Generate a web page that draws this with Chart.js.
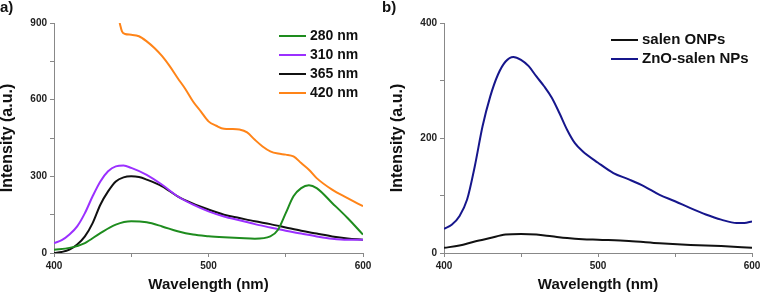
<!DOCTYPE html>
<html>
<head>
<meta charset="utf-8">
<script src="https://cdn.jsdelivr.net/npm/chart.js@4/dist/chart.umd.min.js"></script>
<style>
  body { margin: 0; background: #fff; font-family: "Liberation Sans", Arial, sans-serif; }
  #wrap { position: relative; width: 761px; height: 295px; }
  .panel { position: absolute; top: 0; height: 295px; }
  .tag { position: absolute; top: -2px; font-weight: bold; font-size: 15px; color: #111; }
  .leg { position: absolute; font-weight: bold; color: #111; }
  .leg div { position: relative; height: 19px; line-height: 19px; white-space: nowrap; }
  .leg span.sw { display: inline-block; width: 27px; height: 2px; vertical-align: middle; margin-right: 4px; }
</style>
</head>
<body>
<div id="wrap">
  <div class="panel" style="left:0;width:380px"><canvas id="chartA"></canvas></div>
  <div class="panel" style="left:380px;width:381px"><canvas id="chartB"></canvas></div>
  <div class="tag" style="left:0">a)</div>
  <div class="tag" style="left:382px">b)</div>
  <div class="leg" id="legA" style="left:279px;top:26px;font-size:14px"></div>
  <div class="leg" id="legB" style="left:611px;top:29px;font-size:15px"></div>
</div>
<script>
// panel a) excitation series
const labelsA = ['280 nm', '310 nm', '365 nm', '420 nm'];
const colorsA = ['#1e8c1e', '#9b30ff', '#111111', '#ff8418'];

const wl280 = [400, 410, 420, 430, 440, 450, 460, 470, 480, 490, 500, 510, 520, 530, 540, 545, 550, 555, 560, 565, 570, 580, 590, 600];
const em280 = [13, 20, 39, 78, 111, 124, 120, 104, 85, 72, 66, 62, 59, 56, 65, 91, 156, 222, 254, 265, 254, 196, 137, 72];

const wl310 = [400, 405, 410, 415, 420, 425, 430, 435, 440, 445, 450, 460, 470, 480, 490, 500, 510, 520, 530, 540, 550, 560, 570, 580, 590, 600];
const em310 = [39, 50, 72, 104, 156, 222, 280, 320, 339, 342, 333, 306, 267, 222, 189, 163, 143, 128, 113, 100, 87, 76, 65, 56, 52, 52];

const wl365 = [400, 405, 410, 415, 420, 425, 430, 435, 440, 445, 450, 455, 460, 470, 480, 490, 500, 510, 520, 530, 540, 550, 560, 570, 580, 590, 600];
const em365 = [0, 4, 13, 33, 65, 117, 189, 241, 280, 296, 300, 297, 287, 261, 222, 193, 170, 150, 137, 124, 113, 100, 87, 76, 65, 57, 52];

const wl420 = [442.5, 444, 446, 450, 455, 460, 465, 470, 475, 480, 485, 490, 495, 500, 505, 510, 515, 520, 525, 530, 535, 540, 545, 550, 555, 560, 565, 570, 580, 590, 600];
const em420 = [900, 867, 857, 854, 848, 828, 802, 770, 730, 685, 642, 593, 554, 515, 498, 486, 485, 483, 472, 443, 417, 398, 389, 385, 378, 352, 326, 293, 248, 215, 183];

// panel b)
const labelsB = ['salen ONPs', 'ZnO-salen NPs'];
const colorsB = ['#111111', '#16168c'];

const wlSalen = [400, 410, 420, 430, 440, 450, 460, 470, 480, 490, 500, 520, 540, 560, 580, 600];
const emSalen = [9, 13, 20, 26, 32, 33, 32, 29, 26, 24, 23, 21, 17, 14, 12, 9];

const wlZnO = [400, 405, 410, 415, 420, 425, 430, 435, 440, 445, 450, 455, 460, 465, 470, 475, 480, 485, 490, 500, 510, 520, 530, 540, 550, 560, 570, 580, 590, 595, 600];
const emZnO = [42, 49, 64, 93, 151, 220, 272, 310, 333, 341, 336, 325, 307, 290, 270, 243, 214, 191, 177, 157, 139, 128, 116, 101, 90, 78, 67, 58, 52, 52, 55];

const ticksA = [0, 300, 600, 900];
const ticksB = [0, 200, 400];
const ticksX = [400, 500, 600];

function pts(xs, ys) { return xs.map((x, i) => ({ x: x, y: ys[i] })); }

function makeChart(id, sets, labels, colors, yMax, yStep, yTicks, yAxisW, padRight, yTitlePad) {
  new Chart(document.getElementById(id), {
    type: 'line',
    data: {
      datasets: sets.map((d, i) => ({
        label: labels[i],
        data: pts(d[0], d[1]),
        borderColor: colors[i],
        borderWidth: 2,
        pointRadius: 0,
        cubicInterpolationMode: 'monotone',
        fill: false
      }))
    },
    options: {
      responsive: true,
      maintainAspectRatio: false,
      animation: false,
      layout: { padding: { top: 23, right: padRight, left: 0, bottom: 0 } },
      plugins: { legend: { display: false }, tooltip: { enabled: false } },
      scales: {
        x: {
          type: 'linear', min: 400, max: 600,
          grid: { drawOnChartArea: false, tickLength: 4, color: '#888' },
          border: { color: '#888', width: 1 },
          ticks: {
            stepSize: 50, autoSkip: false, maxRotation: 0, padding: 3,
            color: '#222', font: { size: 10, weight: 'bold' },
            callback: v => ticksX.includes(v) ? String(v) : ''
          },
          title: {
            display: true, text: 'Wavelength (nm)', color: '#111',
            font: { size: 15, weight: 'bold', lineHeight: 1 },
            padding: { top: 0, bottom: 2.5 }
          },
          afterFit: s => { s.height = 42; s.paddingLeft = 0; s.paddingRight = 0; }
        },
        y: {
          type: 'linear', min: 0, max: yMax,
          grid: { drawOnChartArea: false, tickLength: 4, color: '#888' },
          border: { color: '#888', width: 1 },
          ticks: {
            stepSize: yStep, autoSkip: false, padding: 3,
            color: '#222', font: { size: 10, weight: 'bold' },
            callback: v => yTicks.includes(v) ? String(v) : ''
          },
          title: {
            display: true, text: 'Intensity (a.u.)', color: '#111',
            font: { size: 16, weight: 'bold', lineHeight: 1 },
            padding: { top: yTitlePad, bottom: 0 }
          },
          afterFit: s => { s.width = yAxisW; }
        }
      }
    }
  });
}

function makeLegend(id, labels, colors) {
  const box = document.getElementById(id);
  labels.forEach((l, i) => {
    const row = document.createElement('div');
    row.innerHTML = '<span class="sw" style="background:' + colors[i] + '"></span>' + l;
    box.appendChild(row);
  });
}

makeChart('chartA', [[wl280, em280], [wl310, em310], [wl365, em365], [wl420, em420]],
  labelsA, colorsA, 900, 150, ticksA, 54, 17, 0);
makeChart('chartB', [[wlSalen, emSalen], [wlZnO, emZnO]],
  labelsB, colorsB, 400, 100, ticksB, 64, 9, 9.5);

makeLegend('legA', labelsA, colorsA);
makeLegend('legB', labelsB, colorsB);
</script>
</body>
</html>
